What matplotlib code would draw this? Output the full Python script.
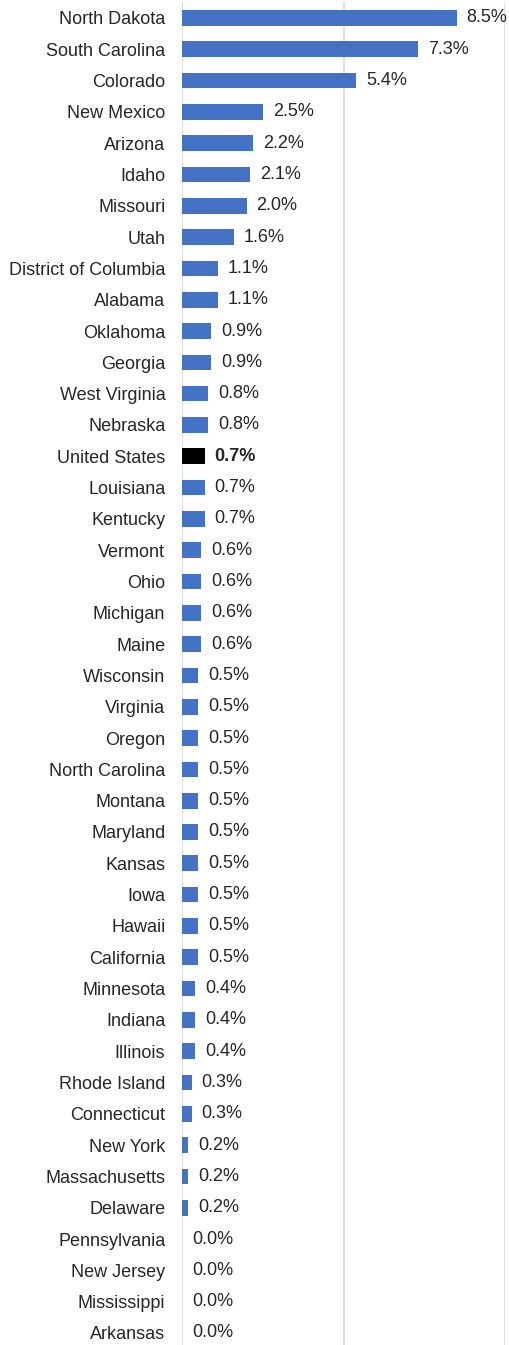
import matplotlib
matplotlib.use("Agg")
import matplotlib.pyplot as plt

states = ["North Dakota", "South Carolina", "Colorado", "New Mexico", "Arizona", "Idaho",
          "Missouri", "Utah", "District of Columbia", "Alabama", "Oklahoma", "Georgia",
          "West Virginia", "Nebraska", "United States", "Louisiana", "Kentucky", "Vermont",
          "Ohio", "Michigan", "Maine", "Wisconsin", "Virginia", "Oregon", "North Carolina",
          "Montana", "Maryland", "Kansas", "Iowa", "Hawaii", "California", "Minnesota",
          "Indiana", "Illinois", "Rhode Island", "Connecticut", "New York", "Massachusetts",
          "Delaware", "Pennsylvania", "New Jersey", "Mississippi", "Arkansas"]
values = [8.5, 7.3, 5.4, 2.5, 2.2, 2.1, 2.0, 1.6, 1.1, 1.1, 0.9, 0.9, 0.8, 0.8, 0.7, 0.7,
          0.7, 0.6, 0.6, 0.6, 0.6, 0.5, 0.5, 0.5, 0.5, 0.5, 0.5, 0.5, 0.5, 0.5, 0.5, 0.4,
          0.4, 0.4, 0.3, 0.3, 0.2, 0.2, 0.2, 0.0, 0.0, 0.0, 0.0]
highlight = "United States"
x_ticks = [0, 5, 10]

plt.rcParams['font.family'] = ['Liberation Sans', 'DejaVu Sans']

W, H = 510, 1345
fig = plt.figure(figsize=(W / 100, H / 100), dpi=100)
left = 182 / W
right = 505 / W
top_px = 2.3
bot_px = 1348.6
ax = fig.add_axes([left, (H - bot_px) / H, right - left, (bot_px - top_px) / H])

colors = ["#000000" if s == highlight else "#4472C4" for s in states]
ypos = list(range(len(states)))
ax.barh(ypos, values, height=0.5, color=colors, zorder=3)
ax.set_ylim(len(states) - 0.5, -0.5)
ax.set_xlim(0, 10)
ax.set_xticks(x_ticks)
ax.set_xticklabels([])
ax.tick_params(axis='x', length=0)
ax.tick_params(axis='y', length=0, pad=12)
ax.set_yticks(ypos)
ax.set_yticklabels(states, fontsize=13, color="#262626")
ax.grid(axis='x', color="#d9d9d9", linewidth=1.2, zorder=0)
for sp in ax.spines.values():
    sp.set_visible(False)

for y, (s, v) in enumerate(zip(states, values)):
    ax.annotate(f"{v:.1f}%", xy=(v, y), xytext=(10, 0), textcoords="offset pixels",
                va="center", ha="left", fontsize=13, color="#262626",
                fontweight="bold" if s == highlight else "normal")

fig.savefig("out.png", dpi=100)
